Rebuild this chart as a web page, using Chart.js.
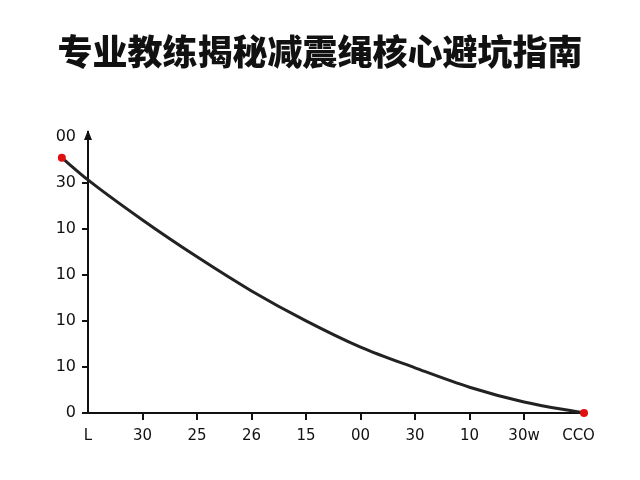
<!DOCTYPE html>
<html lang="zh-CN">
<head>
  <meta charset="UTF-8">
  <title>专业教练揭秘减震绳核心避坑指南</title>
  <script src="https://cdn.jsdelivr.net/npm/chart.js"></script>
  <style>
    body { margin: 0; background: #fff; }
    .wrap { width: 640px; height: 480px; }
  </style>
</head>
<body>
  <div class="wrap"><canvas id="chart" width="640" height="480"></canvas></div>

  <script>
    // Tick labels as printed on the chart
    const xLabels = ['L', '30', '25', '26', '15', '00', '30', '10', '30w', 'CCO'];
    const yLabels = ['0', '10', '10', '10', '10', '30', '00'];

    // Curve (x in tick steps, y in grid steps)
    const curveX = [-0.48, 0, 1, 2, 3, 4, 5, 6, 7, 8, 9.1];
    const curveY = [5.54, 5.06, 4.19, 3.39, 2.65, 2.0, 1.43, 0.98, 0.56, 0.24, 0];

    const points = curveX.map((x, i) => ({ x: x, y: curveY[i] }));
    const lastIdx = points.length - 1;
    const dotColor = '#e01010';

    // Arrow head on top of the y axis, and the start dot that sits left of the chart area
    const axisArrow = {
      id: 'axisArrow',
      afterDatasetsDraw(chart) {
        const { ctx, chartArea } = chart;
        const x0 = chartArea.left;
        ctx.save();
        ctx.fillStyle = '#111';
        ctx.beginPath();
        ctx.moveTo(x0, chartArea.top - 2);
        ctx.lineTo(x0 - 4, chartArea.top + 8);
        ctx.lineTo(x0 + 4, chartArea.top + 8);
        ctx.closePath();
        ctx.fill();

        const first = chart.getDatasetMeta(0).data[0];
        if (first) {
          ctx.fillStyle = dotColor;
          ctx.beginPath();
          ctx.arc(first.x, first.y, 4, 0, Math.PI * 2);
          ctx.fill();
        }
        ctx.restore();
      }
    };

    const ctx = document.getElementById('chart').getContext('2d');
    new Chart(ctx, {
      type: 'line',
      data: {
        datasets: [{
          data: points,
          borderColor: '#222',
          borderWidth: 3,
          cubicInterpolationMode: 'monotone',
          pointRadius: points.map((p, i) => (i === 0 || i === lastIdx) ? 4 : 0),
          pointBackgroundColor: dotColor,
          pointBorderWidth: 0,
          clip: false
        }]
      },
      options: {
        responsive: false,
        animation: false,
        layout: { padding: { left: 56, right: 56, top: 0, bottom: 67 } },
        plugins: {
          legend: { display: false },
          tooltip: { enabled: false },
          title: {
            display: true,
            text: '专业教练揭秘减震绳核心避坑指南',
            color: '#111',
            font: { family: '"Noto Sans CJK SC", sans-serif', size: 35, weight: '900' },
            padding: { top: 31, bottom: 59 }
          }
        },
        scales: {
          x: {
            type: 'linear',
            position: { y: 0 },
            min: 0,
            max: 9.1,
            border: { display: true, color: '#111', width: 2 },
            grid: {
              drawOnChartArea: false,
              tickLength: 6,
              lineWidth: 2,
              color: (c) => (c.tick && c.tick.value >= 1 && c.tick.value <= 8) ? '#111' : 'rgba(0,0,0,0)'
            },
            afterBuildTicks: (axis) => {
              axis.ticks = xLabels.map((_, i) => ({ value: i }));
            },
            ticks: {
              autoSkip: false,
              maxRotation: 0,
              padding: 8,
              color: '#111',
              font: { family: '"DejaVu Sans", sans-serif', size: 15 },
              callback: (v) => xLabels[v]
            }
          },
          y: {
            type: 'linear',
            position: 'left',
            min: 0,
            max: 6.1,
            afterFit: (axis) => { axis.width = 32; },
            border: { display: true, color: '#111', width: 2 },
            grid: {
              drawOnChartArea: false,
              tickLength: 6,
              lineWidth: 2,
              color: (c) => (c.tick && c.tick.value < 6) ? '#111' : 'rgba(0,0,0,0)'
            },
            afterBuildTicks: (axis) => {
              axis.ticks = yLabels.map((_, i) => ({ value: i }));
            },
            ticks: {
              padding: 6,
              color: '#111',
              font: { family: '"DejaVu Sans", sans-serif', size: 16 },
              callback: (v) => yLabels[v]
            }
          }
        }
      },
      plugins: [axisArrow]
    });
  </script>
</body>
</html>
